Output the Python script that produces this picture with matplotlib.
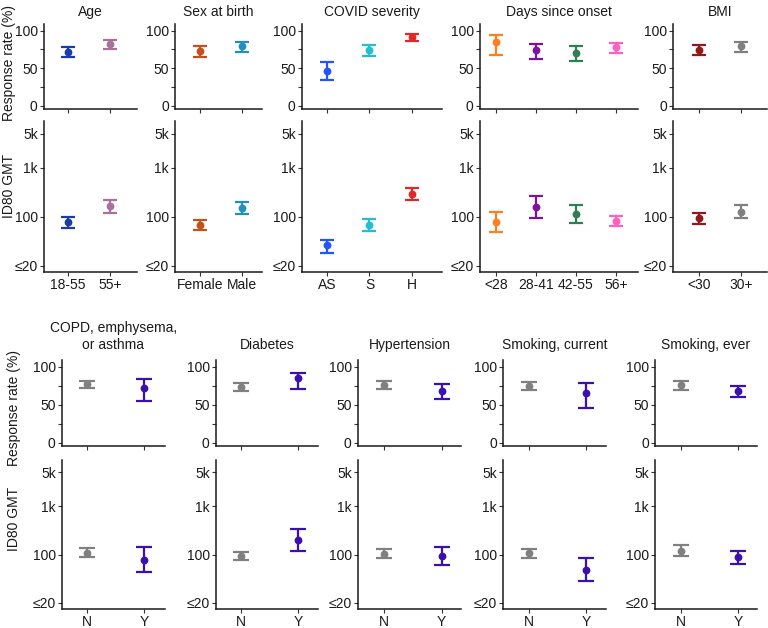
import numpy as np
import matplotlib.pyplot as plt

plt.rcParams['font.family'] = ['Liberation Sans', 'DejaVu Sans']
plt.rcParams['font.size'] = 10

W, H = 768, 628  # figure size in pixels

# ---- data ----
age_cats = ['18-55', '55+']
age_resp = [71.6, 82.7]
age_resp_lo = [65.3, 75.1]
age_resp_hi = [77.8, 88.0]
age_gmt = [78, 163]
age_gmt_lo = [60, 117]
age_gmt_hi = [97, 220]

sex_cats = ['Female', 'Male']
sex_resp = [72.9, 79.1]
sex_resp_lo = [65.3, 72.0]
sex_resp_hi = [79.0, 84.9]
sex_gmt = [68.5, 153]
sex_gmt_lo = [54, 113]
sex_gmt_hi = [87, 203]

sev_cats = ['AS', 'S', 'H']
sev_resp = [46.5, 74.3, 91.6]
sev_resp_lo = [34.5, 65.9, 86.3]
sev_resp_hi = [58.4, 81.0, 96.0]
sev_gmt = [26.9, 68.6, 299]
sev_gmt_lo = [18.7, 51, 225]
sev_gmt_hi = [34.4, 89.6, 383]

days_cats = ['<28', '28-41', '42-55', '56+']
days_resp = [85.4, 74.3, 70.8, 77.9]
days_resp_lo = [67.7, 62.8, 60.2, 69.9]
days_resp_hi = [94.2, 82.7, 79.6, 83.6]
days_gmt = [80, 160, 115, 82]
days_gmt_lo = [49, 92.5, 74, 64.5]
days_gmt_hi = [128, 264, 173, 102]

bmi_cats = ['<30', '30+']
bmi_resp = [74.6, 79.4]
bmi_resp_lo = [68.0, 71.5]
bmi_resp_hi = [80.7, 85.5]
bmi_gmt = [94, 126]
bmi_gmt_lo = [73, 92.5]
bmi_gmt_hi = [120, 172]

yn_cats = ['N', 'Y']

copd_resp = [76.9, 72.0]
copd_resp_lo = [72.0, 55.1]
copd_resp_hi = [81.3, 84.4]
copd_gmt = [110, 78]
copd_gmt_lo = [88, 43]
copd_gmt_hi = [134, 141]

diab_resp = [73.3, 84.9]
diab_resp_lo = [68.0, 71.1]
diab_resp_hi = [78.2, 92.4]
diab_gmt = [95, 201]
diab_gmt_lo = [77, 119]
diab_gmt_hi = [115, 340]

hyp_resp = [76.5, 68.6]
hyp_resp_lo = [71.2, 57.0]
hyp_resp_hi = [81.9, 77.9]
hyp_gmt = [105, 94]
hyp_gmt_lo = [84, 61]
hyp_gmt_hi = [130, 143]

smc_resp = [75.2, 65.0]
smc_resp_lo = [69.9, 46.0]
smc_resp_hi = [79.6, 79.2]
smc_gmt = [106, 48]
smc_gmt_lo = [86, 28]
smc_gmt_hi = [132, 84]

sme_resp = [75.8, 68.7]
sme_resp_lo = [69.6, 60.4]
sme_resp_hi = [81.0, 74.9]
sme_gmt = [120, 87]
sme_gmt_lo = [94, 65]
sme_gmt_hi = [155, 116]

# ---- colours ----
age_colors = ['#1a3ab0', '#a8709a']
sex_colors = ['#c4501c', '#2090c0']
sev_colors = ['#2255ff', '#20c0d0', '#e02828']
days_colors = ['#ff7f20', '#8010a0', '#2e8050', '#ff60c0']
bmi_colors = ['#901a1a', '#808080']
yn_colors = ['#808080', '#3a10b0']

# ---- layout (pixels): left, right, xlim ----
top_rows = (24, 109, 121, 272)
bot_rows = (360, 446, 460, 609)

panels = [
    ('Age', age_cats, age_colors, (age_resp, age_resp_lo, age_resp_hi),
     (age_gmt, age_gmt_lo, age_gmt_hi), 44, 137, (0.43, 2.64), top_rows),
    ('Sex at birth', sex_cats, sex_colors, (sex_resp, sex_resp_lo, sex_resp_hi),
     (sex_gmt, sex_gmt_lo, sex_gmt_hi), 175, 262, (0.40, 2.48), top_rows),
    ('COVID severity', sev_cats, sev_colors, (sev_resp, sev_resp_lo, sev_resp_hi),
     (sev_gmt, sev_gmt_lo, sev_gmt_hi), 302, 442, (0.41, 3.71), top_rows),
    ('Days since onset', days_cats, days_colors, (days_resp, days_resp_lo, days_resp_hi),
     (days_gmt, days_gmt_lo, days_gmt_hi), 480, 638, (0.60, 4.55), top_rows),
    ('BMI', bmi_cats, bmi_colors, (bmi_resp, bmi_resp_lo, bmi_resp_hi),
     (bmi_gmt, bmi_gmt_lo, bmi_gmt_hi), 673, 767, (0.38, 2.62), top_rows),
    ('COPD, emphysema,\nor asthma', yn_cats, yn_colors, (copd_resp, copd_resp_lo, copd_resp_hi),
     (copd_gmt, copd_gmt_lo, copd_gmt_hi), 62, 165, (0.56, 2.37), bot_rows),
    ('Diabetes', yn_cats, yn_colors, (diab_resp, diab_resp_lo, diab_resp_hi),
     (diab_gmt, diab_gmt_lo, diab_gmt_hi), 216, 318, (0.56, 2.35), bot_rows),
    ('Hypertension', yn_cats, yn_colors, (hyp_resp, hyp_resp_lo, hyp_resp_hi),
     (hyp_gmt, hyp_gmt_lo, hyp_gmt_hi), 358, 461, (0.56, 2.33), bot_rows),
    ('Smoking, current', yn_cats, yn_colors, (smc_resp, smc_resp_lo, smc_resp_hi),
     (smc_gmt, smc_gmt_lo, smc_gmt_hi), 503, 606, (0.54, 2.35), bot_rows),
    ('Smoking, ever', yn_cats, yn_colors, (sme_resp, sme_resp_lo, sme_resp_hi),
     (sme_gmt, sme_gmt_lo, sme_gmt_hi), 655, 757, (0.54, 2.33), bot_rows),
]


def add_box(fig, l, r, t, b):
    return fig.add_axes([l / W, 1 - b / H, (r - l) / W, (b - t) / H])


def style(ax):
    for s in ['top', 'right']:
        ax.spines[s].set_visible(False)
    for s in ['left', 'bottom']:
        ax.spines[s].set_linewidth(1.1)
        ax.spines[s].set_color('#1a1a1a')
    ax.tick_params(length=3, width=0.8, color='#333333', labelcolor='#1a1a1a',
                   pad=1.5, labelsize=10)
    ax.tick_params(axis='x', pad=1)


def draw_points(ax, cats, colors, vals, lo, hi, capsize):
    x = np.arange(1, len(cats) + 1)
    for i in range(len(cats)):
        ax.errorbar(x[i], vals[i], yerr=[[vals[i] - lo[i]], [hi[i] - vals[i]]],
                    fmt='o', color=colors[i], ms=4.6, elinewidth=1.6,
                    capsize=capsize, capthick=1.6)
    return x


fig = plt.figure(figsize=(W / 100, H / 100), dpi=100)

for title, cats, colors, resp, gmt, l, r, xlim, rows in panels:
    cap = 5.5 if rows is bot_rows else 4.8
    ax1 = add_box(fig, l, r, rows[0], rows[1])
    ax2 = add_box(fig, l, r, rows[2], rows[3])

    x = draw_points(ax1, cats, colors, *resp, cap)
    ax1.set_xlim(*xlim)
    ax1.set_ylim(-4.4, 109)
    ax1.set_yticks([0, 25, 50, 75, 100], labels=['0', '', '50', '', '100'])
    ax1.set_xticks(x, labels=['' for _ in cats])
    style(ax1)
    ax1.set_title(title, fontsize=10, pad=6 if rows is top_rows else 8,
                  color='#1a1a1a', linespacing=1.25)

    draw_points(ax2, cats, colors, *gmt, cap)
    ax2.set_yscale('log')
    ax2.set_xlim(*xlim)
    ax2.set_ylim(7.5, 9000)
    ax2.set_yticks([10, 100, 1000, 5000], labels=['≤20', '100', '1k', '5k'])
    ax2.minorticks_off()
    ax2.set_xticks(x, labels=cats)
    style(ax2)

# row labels
fig.text(9 / W, 1 - 63 / H, 'Response rate (%)', rotation=90, ha='center', va='center',
         fontsize=10, color='#1a1a1a')
fig.text(9 / W, 1 - 186 / H, 'ID80 GMT', rotation=90, ha='center', va='center',
         fontsize=10, color='#1a1a1a')
fig.text(14 / W, 1 - 408 / H, 'Response rate (%)', rotation=90, ha='center', va='center',
         fontsize=10, color='#1a1a1a')
fig.text(14 / W, 1 - 519 / H, 'ID80 GMT', rotation=90, ha='center', va='center',
         fontsize=10, color='#1a1a1a')

fig.savefig('out.png', dpi=100)
